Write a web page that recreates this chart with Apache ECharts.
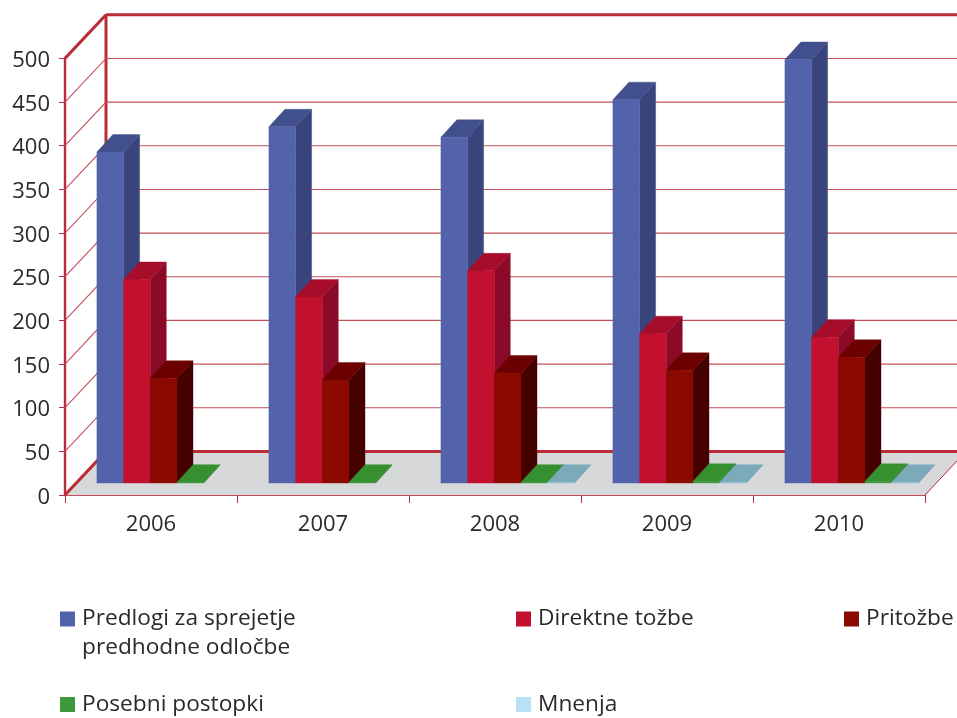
<!DOCTYPE html>
<html>
<head>
<meta charset="utf-8">
<script src="https://cdn.jsdelivr.net/npm/echarts@6/dist/echarts.min.js"></script>
<style>html,body{margin:0;padding:0;background:#fff}#c{width:957px;height:718px}</style>
</head>
<body>
<div id="c"></div>
<script>
var categories = ['2006', '2007', '2008', '2009', '2010'];
var references = [379, 408, 396, 439, 485];
var directActions = [233, 213, 243, 171, 167];
var appeals = [120, 118, 126, 129, 144];
var specialProcedures = [1, 1, 1, 2, 2];
var opinions = [0, 0, 1, 1, 1];
var seriesNames = ['Predlogi za sprejetje predhodne odločbe', 'Direktne tožbe', 'Pritožbe', 'Posebni postopki', 'Mnenja'];
var yTicks = [0, 50, 100, 150, 200, 250, 300, 350, 400, 450, 500];

var FONT = '"Open Sans"', TXT = '#2b2a29', RED = '#b92c38';
var WALL = {dx: 41, dy: -43.6};
var BAR = {dx: 16, dy: -17.5, w: 26.7, first: 31.9, baseX: 0, baseY: -12};
var palette = [
  {front: '#5262ab', side: '#39437c', top: '#41508c', legend: '#5262ab'},
  {front: '#c2102f', side: '#8b0a27', top: '#a50d2b', legend: '#c2102f'},
  {front: '#8b0a00', side: '#450000', top: '#6c0000', legend: '#8b0a00'},
  {front: '#3d983d', side: '#2b7028', top: '#36902f', legend: '#3d983d'},
  {front: '#8cc0d4', side: '#6c9aab', top: '#7caabb', legend: '#b9e1f6'}
];

function poly(points, fill, stroke) {
  return {type: 'polygon', shape: {points: points}, style: {fill: fill, stroke: stroke || fill, lineWidth: 0.4}};
}
function barItem(idx) {
  return function (params, api) {
    var v = api.value(1);
    if (!v) return null;
    var p0 = api.coord([api.value(0), 0]);
    var p1 = api.coord([api.value(0), v]);
    var band = api.size([1, 0])[0];
    var x = p0[0] - band / 2 + BAR.first + idx * BAR.w;
    var yb = p0[1] + BAR.baseY, yt = p1[1] + BAR.baseY;
    var c = palette[idx], w = BAR.w, dx = BAR.dx, dy = BAR.dy;
    return {type: 'group', children: [
      poly([[x + w, yb], [x + w + dx, yb + dy], [x + w + dx, yt + dy], [x + w, yt]], c.side),
      poly([[x, yt], [x + dx, yt + dy], [x + w + dx, yt + dy], [x + w, yt]], c.top),
      poly([[x, yb], [x + w, yb], [x + w, yt], [x, yt]], c.front)
    ]};
  };
}
function wallItem(params, api) {
  var v = api.value(0);
  var p = api.coord([0, v]);
  var x0 = params.coordSys.x, y = p[1];
  var band = params.coordSys.width;
  var xe = 957, bx = x0 + WALL.dx, by = y + WALL.dy;
  var kids = [];
  if (v === 0) {
    var r = x0 + band;
    kids.push(poly([[x0, y], [bx, by], [xe, by], [xe, y + (xe - r) * WALL.dy / WALL.dx], [r, y]], '#d7d8da'));
    kids.push({type: 'line', shape: {x1: r, y1: y, x2: xe, y2: y + (xe - r) * WALL.dy / WALL.dx}, style: {stroke: RED, lineWidth: 1}});
    kids.push({type: 'line', shape: {x1: bx, y1: by, x2: xe, y2: by}, style: {stroke: RED, lineWidth: 3}});
    kids.push({type: 'line', shape: {x1: x0, y1: y, x2: bx, y2: by}, style: {stroke: RED, lineWidth: 3}});
    kids.push({type: 'line', shape: {x1: bx, y1: by, x2: bx, y2: by - 437}, style: {stroke: RED, lineWidth: 3}});
  } else if (v === 500) {
    kids.push({type: 'line', shape: {x1: x0, y1: y, x2: bx, y2: by}, style: {stroke: RED, lineWidth: 3}});
    kids.push({type: 'line', shape: {x1: bx, y1: by, x2: xe, y2: by}, style: {stroke: RED, lineWidth: 3}});
  } else {
    kids.push({type: 'polyline', shape: {points: [[x0, y], [bx, by], [xe, by]]}, style: {fill: 'none', stroke: '#c4505a', lineWidth: 1.1}});
  }
  return {type: 'group', children: kids};
}
function toData(arr) { return arr.map(function (v, i) { return [i, v]; }); }
var values = [references, directActions, appeals, specialProcedures, opinions];
var series = [{
  type: 'custom', name: 'wall', coordinateSystem: 'cartesian2d', clip: false, silent: true, z: 1,
  data: yTicks.map(function (v) { return [v]; }), renderItem: wallItem, encode: {y: 0}
}];
values.forEach(function (arr, i) {
  series.push({
    type: 'custom', name: seriesNames[i], coordinateSystem: 'cartesian2d', z: 2 + i, clip: false,
    data: toData(arr), renderItem: barItem(i), encode: {x: 0, y: 1},
    itemStyle: {color: palette[i].legend}
  });
});
var legendPos = [[60, 575.5], [516, 604.5], [844, 604.5], [60, 690], [516, 690]];
var legends = seriesNames.map(function (n, i) {
  return {
    data: [n], left: legendPos[i][0], top: legendPos[i][1], padding: 0, orient: 'horizontal',
    icon: 'rect', itemWidth: 15, itemHeight: 15, selectedMode: false,
    textStyle: {fontFamily: FONT, fontSize: 22.7, color: TXT, lineHeight: 29, padding: [0, 0, 0, 2]},
    formatter: i === 0 ? function () { return '\nPredlogi za sprejetje\npredhodne odločbe'; } : undefined
  };
});
var chart = echarts.init(document.getElementById('c'), null, {renderer: 'canvas'});
chart.setOption({
  animation: false,
  backgroundColor: '#fff',
  legend: legends,
  grid: {left: 65, right: 32, top: 58.4, bottom: 223, containLabel: false},
  xAxis: {
    type: 'category', data: categories, boundaryGap: true,
    axisLine: {show: true, lineStyle: {color: RED, width: 1.2}},
    axisTick: {show: true, length: 8, lineStyle: {color: RED, width: 1}, alignWithLabel: false},
    axisLabel: {fontFamily: FONT, fontSize: 22, color: TXT, margin: 19}
  },
  yAxis: {
    type: 'value', min: 0, max: 500, interval: 50,
    splitLine: {show: false},
    axisLine: {show: true, lineStyle: {color: RED, width: 2.4}},
    axisTick: {show: true, length: 6, lineStyle: {color: RED, width: 1}},
    axisLabel: {
      margin: 15, formatter: '{n|{value}}',
      rich: {n: {fontFamily: FONT, fontSize: 22, color: TXT, lineHeight: 26, padding: [5, 0, 0, 0]}}
    }
  },
  series: series
});
</script>
</body>
</html>
